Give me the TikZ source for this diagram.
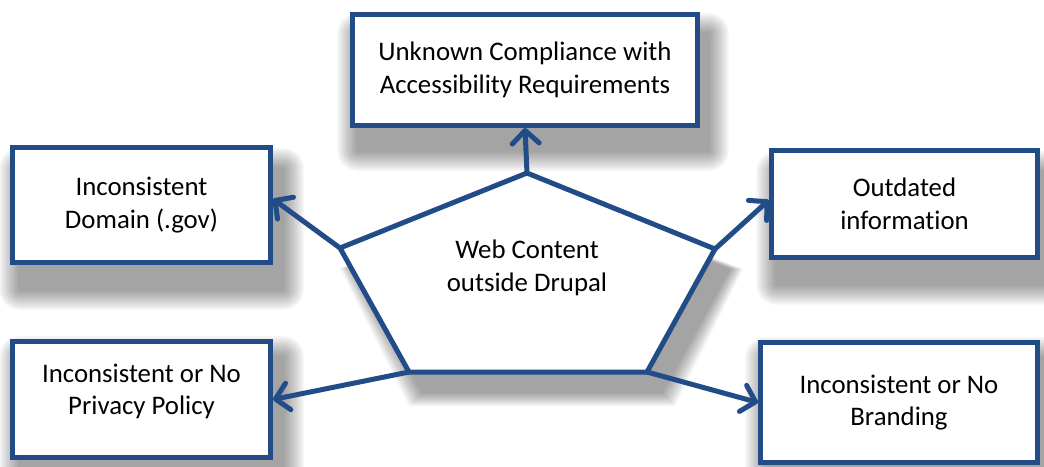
\documentclass[tikz,border=0pt]{standalone}
\usepackage{fontspec}
\setmainfont[Ligatures=NoCommon]{Carlito}
\usepackage{tikz}
\usetikzlibrary{arrows.meta,backgrounds}

\definecolor{frameblue}{RGB}{34,76,136}

% soft shadow behind a named node or shape: name, dx, dy
\newcommand{\softshadow}[3]{%
  \foreach \k in {1,...,14}
    \fill[black,opacity=0.03,rounded corners=1.5*\k pt]
      ([shift={(#2-1.5*\k,#3-1.5*\k)}]#1.north west) rectangle ([shift={(#2+1.5*\k,#3+1.5*\k)}]#1.south east);}

\begin{document}
\begin{tikzpicture}[x=1pt,y=-1pt,
  box/.style={draw=frameblue,line width=5pt,fill=white,align=center,inner sep=0pt,
    font=\fontsize{26.8}{32.5}\selectfont},
  arr/.style={draw=frameblue,line width=5pt,line cap=round,
    -{Straight Barb[length=13pt,width=27pt,round]}}]
\useasboundingbox (0,0) rectangle (1044,466);

% boxes
\node[box,minimum width=345pt,minimum height=111pt] (acc) at (525,70)
  {Unknown Compliance with\\Accessibility Requirements};
\node[box,minimum width=258pt,minimum height=115pt] (dom) at (141.5,205)
  {Inconsistent\\Domain (.gov)};
\node[box,minimum width=258pt,minimum height=116pt] (priv) at (141.5,399.5)
  {Inconsistent or No\\Privacy Policy\\[-12pt]\mbox{}};
\node[box,minimum width=266pt,minimum height=107pt] (outd) at (904.5,204)
  {Outdated\\information};
\node[box,minimum width=277pt,minimum height=120pt] (brand) at (899,402.5)
  {Inconsistent or No\\Branding};

% pentagon
\coordinate (p1) at (527,173);
\coordinate (p2) at (715,249);
\coordinate (p3) at (647,372);
\coordinate (p4) at (409,372);
\coordinate (p5) at (340,248);
\draw[frameblue,line width=5pt,fill=white] (p1) -- (p2) -- (p3) -- (p4) -- (p5) -- cycle;
\node[font=\fontsize{26.8}{32.5}\selectfont,align=center] (web) at (527,268)
  {Web Content\\outside Drupal};

% arrows
\draw[arr] (p1) -- (acc.south);
\draw[arr] (p5) -- ([yshift=6pt]dom.east);
\draw[arr] (p2) -- ([yshift=4pt]outd.west);
\draw[arr] (p4) -- (priv.east);
\draw[arr] (p3) -- (brand.west);

% shadows
\begin{pgfonlayer}{background}
\softshadow{acc}{8}{22}
\softshadow{dom}{10}{24}
\softshadow{priv}{10}{18}
\softshadow{outd}{8}{24}
\softshadow{brand}{8}{18}
\foreach \k in {1,...,14}
  \fill[black,opacity=0.03] ([shift={(14,20)}]p1) -- ([shift={(14+\k,20)}]p2) --
    ([shift={(14+\k,20+\k)}]p3) -- ([shift={(14-\k,20+\k)}]p4) -- ([shift={(14-\k,20)}]p5) -- cycle;
\end{pgfonlayer}
\end{tikzpicture}
\end{document}
